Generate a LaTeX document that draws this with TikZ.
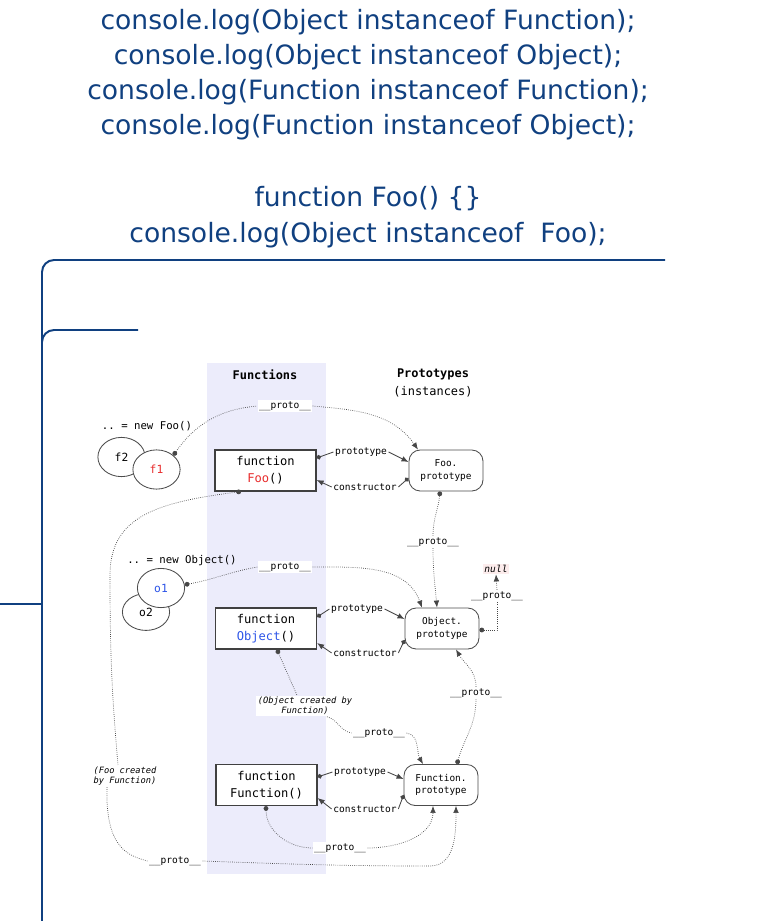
\documentclass[tikz,border=0pt]{standalone}
\usepackage{fontspec}
\setmainfont{DejaVu Sans}
\setmonofont{DejaVu Sans Mono}
\usetikzlibrary{arrows.meta,shapes.geometric}
\definecolor{codeblue}{RGB}{16,64,128}
\definecolor{band}{RGB}{236,236,251}
\definecolor{nullbg}{RGB}{252,236,236}
\definecolor{wire}{RGB}{70,70,70}
\definecolor{fred}{RGB}{232,44,44}
\definecolor{oblue}{RGB}{44,84,232}
\newcommand\protolbl{\_\_proto\_\_}
\tikzset{knob/.tip={Circle[length=3.4pt]}, head/.tip={Latex[length=5pt,width=4pt]}}
\begin{document}
\begin{tikzpicture}[x=0.025cm,y=-0.025cm,
  frame/.style={draw=codeblue,line width=1.4pt,rounded corners=0.3cm},
  fnbox/.style={draw=black!75,line width=0.8pt,fill=white,minimum width=2.525cm,minimum height=1.025cm,inner sep=0pt,align=center,font=\ttfamily\fontsize{8.6}{12}\selectfont},
  protobox/.style={draw=black!70,line width=0.6pt,fill=white,rounded corners=0.28cm,minimum width=1.85cm,minimum height=1.025cm,inner sep=0pt,align=center,font=\ttfamily\fontsize{6.7}{9}\selectfont},
  inst/.style={ellipse,draw=black!70,line width=0.6pt,fill=white,inner sep=0pt,minimum width=1.18cm,minimum height=0.98cm,font=\ttfamily\fontsize{8}{10}\selectfont},
  lbl/.style={fill=white,inner sep=1pt,font=\ttfamily\fontsize{6.8}{8}\selectfont},
  caller/.style={inner sep=1pt,font=\ttfamily\fontsize{7.6}{9}\selectfont},
  note/.style={fill=white,inner sep=1pt,align=center,font=\ttfamily\itshape\fontsize{6.2}{7.3}\selectfont},
  ptr/.style={draw=wire,line width=0.5pt,densely dotted},
  ref/.style={draw=wire,line width=0.6pt}]
  \useasboundingbox (0,0) rectangle (765,921);
  \node[anchor=base,text=codeblue,align=center,font=\fontsize{18.9}{24.9}\selectfont] (code) at (368,242)
    {console.log(Object instanceof Function);\\
     console.log(Object instanceof Object);\\
     console.log(Function instanceof Function);\\
     console.log(Function instanceof Object);\\[26.3pt]
     function Foo() \{\}\\
     console.log(Object instanceof\ \ Foo);};
  \draw[frame] (665,260) -- (42,260) -- (42,921);
  \draw[frame] (138,330) -- (42,330) -- (42,420);
  \draw[frame,rounded corners=0] (0,604) -- (42,604);
  \fill[band] (207,363) rectangle (326,874);
  \node[font=\ttfamily\bfseries\fontsize{8.5}{10}\selectfont] (fns) at (265,375) {Functions};
  \node[align=center,font=\ttfamily\fontsize{8.5}{12.8}\selectfont] (prs) at (433,383) {\textbf{Prototypes}\\(instances)};
  \node[fnbox] (foo) at (265.5,470.5) {function\\\textcolor{fred}{Foo}()};
  \node[protobox] (foop) at (446,470.5) {Foo.\\prototype};
  \node[fnbox] (obj) at (266,628.5) {function\\\textcolor{oblue}{Object}()};
  \node[protobox] (objp) at (442,628.5) {Object.\\prototype};
  \node[fnbox] (fun) at (266.5,785) {function\\Function()};
  \node[protobox] (funp) at (441,785) {Function.\\prototype};
  \node[inst] (f2) at (121.5,457) {f2};
  \node[inst,text=fred] (f1) at (156.5,469.5) {f1};
  \node[inst,minimum height=0.92cm] (o2) at (146,612) {o2};
  \node[inst,text=oblue] (o1) at (161,588) {o1};
  \node[caller] (newfoo) at (147,426) {.. = new Foo()};
  \node[caller] (newobj) at (182,561) {.. = new Object()};
  \node[lbl] (pa) at (285,406) {\protolbl};
  \node[lbl] (lpf) at (361,452) {prototype};
  \node[lbl] (lcf) at (365,487) {constructor};
  \node[lbl] (pb) at (433,542) {\protolbl};
  \node[lbl] (pc) at (285,567) {\protolbl};
  \node[lbl,fill=nullbg,font=\ttfamily\itshape\fontsize{6.8}{8}\selectfont] (null) at (496,569) {null};
  \node[lbl] (pd) at (497,596) {\protolbl};
  \node[lbl] (lpo) at (357,609) {prototype};
  \node[lbl] (lco) at (365,653) {constructor};
  \node[note] (objnote) at (305,706) {(Object created by\\Function)};
  \node[lbl] (pe) at (476,693) {\protolbl};
  \node[lbl] (pf) at (379,733) {\protolbl};
  \node[note] (foonote) at (125,776) {(Foo created\\by Function)};
  \node[lbl] (lpu) at (360,772) {prototype};
  \node[lbl] (lcu) at (365,809) {constructor};
  \node[lbl] (pg) at (340,848) {\protolbl};
  \node[lbl] (ph) at (175,861) {\protolbl};
  \draw[ref,knob-] (foo.east |- 0,458) -- (lpf.west);
  \draw[ref,-head] (lpf.east) -- (foop.west |- 0,462);
  \draw[ref,knob-] (foop.west |- 0,478) -- (lcf.east);
  \draw[ref,-head] (lcf.west) -- (foo.east |- 0,480);
  \draw[ref,knob-] (obj.east |- 0,617) -- (lpo.west);
  \draw[ref,-head] (lpo.east) -- (objp.west |- 0,619);
  \draw[ref,knob-] (objp.west |- 0,640) -- (lco.east);
  \draw[ref,-head] (lco.west) -- (obj.east |- 0,643);
  \draw[ref,knob-] (fun.east |- 0,777) -- (lpu.west);
  \draw[ref,-head] (lpu.east) -- (funp.west |- 0,779);
  \draw[ref,knob-] (funp.west |- 0,795) -- (lcu.east);
  \draw[ref,-head] (lcu.west) -- (fun.east |- 0,798);
  \draw[ptr,knob-] (f1.40) to[out=55,in=185] (pa.west);
  \draw[ptr,-head] (pa.east) to[out=-5,in=125] (foop.north -| 418,0);
  \draw[ptr,knob-] (foo.south -| 241,0) .. controls (160,502) and (110,515) .. (110,575) to[out=-90,in=95] (foonote.north -| 118,0);
  \draw[ptr] (foonote.south -| 107,0) .. controls (105,850) and (130,856) .. (ph.west);
  \draw[ptr,-head] (ph.east) to[out=-2,in=180] (430,866) to[out=0,in=-90] (funp.south -| 456,0);
  \draw[ptr,knob-] (foop.south -| 440,0) to[out=-95,in=90] (pb.north);
  \draw[ptr,-head] (pb.south) to[out=-90,in=95] (objp.north -| 437,0);
  \draw[ptr,knob-] (o1.8) to[out=10,in=190] (pc.west);
  \draw[ptr,-head] (pc.east) to[out=0,in=110] (objp.north -| 422,0);
  \draw[ptr,knob-] (objp.east |- 0,630) -| (pd.south);
  \draw[ptr,-head] (pd.north) -- (null.south);
  \draw[ptr,knob-] (obj.south -| 277,0) -- (objnote.north -| 297,0);
  \draw[ptr] (objnote.south -| 327,0) to[out=-15,in=170] (pf.west);
  \draw[ptr,-head] (pf.east) to[out=-10,in=120] (funp.north -| 423,0);
  \draw[ptr,knob-] (funp.north -| 457,0) to[out=75,in=-90] (pe.south);
  \draw[ptr,-head] (pe.north) to[out=90,in=-60] (objp.south -| 456,0);
  \draw[ptr,knob-] (fun.south -| 266,0) to[out=-90,in=180] (pg.west);
  \draw[ptr,-head] (pg.east) to[out=0,in=-90] (funp.south -| 433,0);
\end{tikzpicture}
\end{document}
